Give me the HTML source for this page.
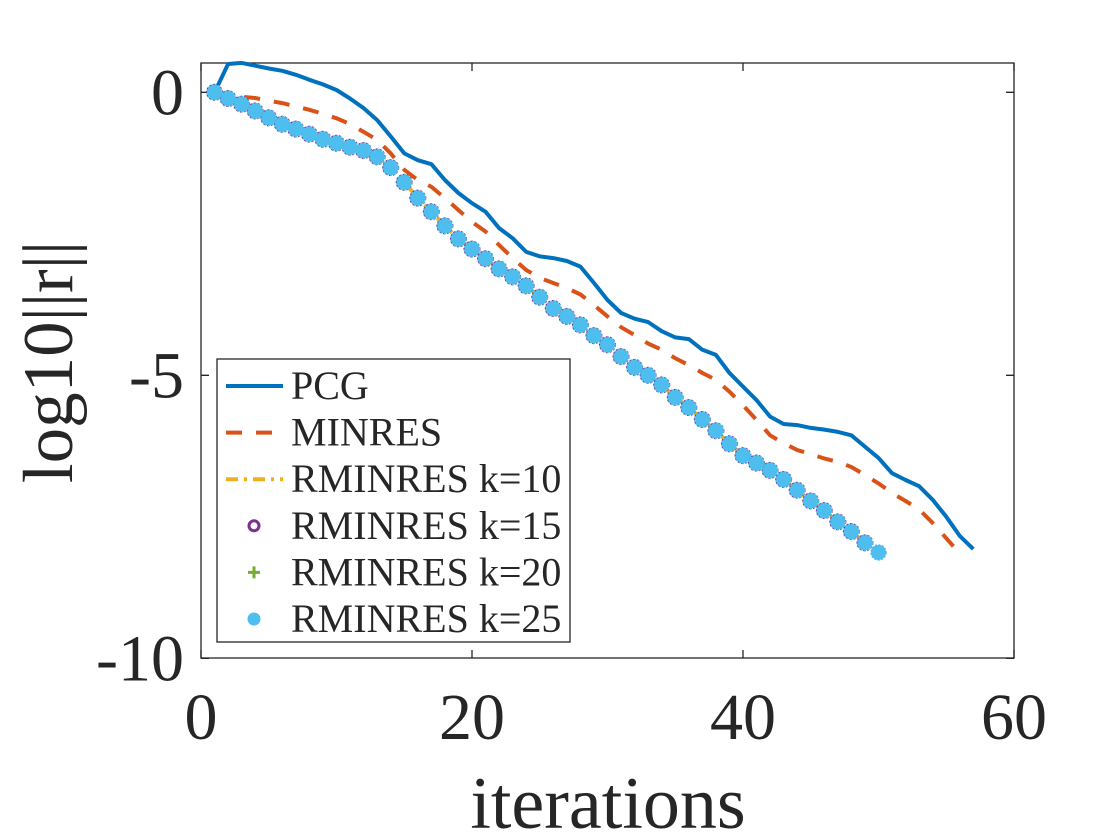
<!DOCTYPE html>
<html><head><meta charset="utf-8"><style>
html,body{margin:0;padding:0;background:#fff}
svg{display:block}
text{font-family:"Liberation Serif",serif;fill:#262626}
</style></head><body>
<svg id="chart" width="1120" height="840" viewBox="0 0 1120 840" xmlns="http://www.w3.org/2000/svg">
<rect x="0" y="0" width="1120" height="840" fill="#fff"/>
<g id="plot"></g>
</svg>
<script>
const xTicks=[0,20,40,60];
const yTicks=[0,-5,-10];
const yTickLabels=["0","-5","-10"];
const pcg=[0,0.50,0.52,0.47,0.42,0.38,0.31,0.22,0.14,0.04,-0.11,-0.28,-0.49,-0.78,-1.08,-1.20,-1.27,-1.55,-1.78,-1.96,-2.11,-2.40,-2.58,-2.82,-2.90,-2.93,-2.98,-3.08,-3.37,-3.67,-3.90,-4.00,-4.06,-4.22,-4.33,-4.36,-4.55,-4.64,-4.96,-5.20,-5.44,-5.73,-5.86,-5.88,-5.93,-5.96,-6.00,-6.06,-6.26,-6.46,-6.73,-6.85,-6.96,-7.20,-7.50,-7.84,-8.07];
const minres=[0,-0.04,-0.08,-0.10,-0.15,-0.19,-0.25,-0.31,-0.38,-0.46,-0.56,-0.70,-0.84,-1.08,-1.37,-1.55,-1.67,-1.87,-2.08,-2.29,-2.46,-2.70,-2.93,-3.14,-3.28,-3.37,-3.46,-3.57,-3.76,-3.96,-4.15,-4.29,-4.44,-4.55,-4.70,-4.82,-4.96,-5.08,-5.29,-5.53,-5.79,-6.06,-6.20,-6.32,-6.39,-6.47,-6.53,-6.62,-6.76,-6.91,-7.08,-7.22,-7.37,-7.61,-7.88,-8.15];
const rk10=[0,-0.11,-0.21,-0.33,-0.45,-0.565,-0.65,-0.74,-0.83,-0.90,-0.97,-1.03,-1.14,-1.33,-1.59,-1.87,-2.11,-2.36,-2.59,-2.77,-2.94,-3.12,-3.26,-3.42,-3.62,-3.82,-3.96,-4.11,-4.30,-4.47,-4.67,-4.86,-5.00,-5.17,-5.39,-5.57,-5.78,-5.98,-6.21,-6.42,-6.55,-6.68,-6.84,-7.03,-7.22,-7.39,-7.59,-7.76,-7.96,-8.13];
const rk15=[0,-0.11,-0.21,-0.33,-0.45,-0.565,-0.65,-0.74,-0.83,-0.90,-0.97,-1.03,-1.14,-1.33,-1.59,-1.87,-2.11,-2.36,-2.59,-2.77,-2.94,-3.12,-3.26,-3.42,-3.62,-3.82,-3.96,-4.11,-4.30,-4.46,-4.67,-4.86,-5.00,-5.17,-5.39,-5.57,-5.78,-5.98,-6.21,-6.42,-6.55,-6.68,-6.84,-7.03,-7.22,-7.39,-7.59,-7.76,-7.96];
const rk20=[0,-0.11,-0.21,-0.33,-0.45,-0.565,-0.65,-0.74,-0.83,-0.90,-0.97,-1.03,-1.14,-1.33,-1.59,-1.87,-2.11,-2.36,-2.59,-2.77,-2.94,-3.12,-3.26,-3.42,-3.62,-3.82,-3.96,-4.11,-4.30,-4.46,-4.67,-4.86,-5.00,-5.17,-5.39,-5.57,-5.78,-5.98,-6.21,-6.42,-6.55,-6.68,-6.84,-7.03,-7.22,-7.39,-7.59,-7.76,-7.97];
const rk25=[0,-0.11,-0.21,-0.33,-0.45,-0.565,-0.65,-0.74,-0.83,-0.90,-0.97,-1.03,-1.14,-1.33,-1.59,-1.87,-2.11,-2.36,-2.59,-2.77,-2.94,-3.12,-3.26,-3.42,-3.62,-3.82,-3.96,-4.11,-4.30,-4.46,-4.67,-4.86,-5.00,-5.17,-5.39,-5.57,-5.78,-5.98,-6.21,-6.42,-6.55,-6.68,-6.84,-7.03,-7.22,-7.39,-7.59,-7.76,-7.96,-8.13];
const legendLabels=["PCG","MINRES","RMINRES k=10","RMINRES k=15","RMINRES k=20","RMINRES k=25"];

const NS="http://www.w3.org/2000/svg";
const L=201,R=1014,T=63,B=658;
const X=v=>L+(v-0)/(60-0)*(R-L);
const Y=v=>92.3-(v-0)*56.6;
const g=document.getElementById('plot');
function mk(tag,at,parent){const e=document.createElementNS(NS,tag);for(const k in at)e.setAttribute(k,at[k]);(parent||g).appendChild(e);return e;}

const box=mk('rect',{x:L,y:T,width:R-L,height:B-T,fill:'none',stroke:'#262626','stroke-width':1.3});


xTicks.forEach((t,i)=>{
  const tk=mk('path',{d:`M${X(t)},${B}v-8M${X(t)},${T}v8`,stroke:'#262626','stroke-width':1.3});
  
  
  const tx=mk('text',{x:X(t),y:739,'font-size':66,'text-anchor':'middle'});
  tx.textContent=String(t);
  
  
});
yTicks.forEach((t,i)=>{
  const tk=mk('path',{d:`M${L},${Y(t)}h8M${R},${Y(t)}h-8`,stroke:'#262626','stroke-width':1.3});
  
  
  const tx=mk('text',{x:184,y:Y(t)+22,'font-size':66,'text-anchor':'end'});
  tx.textContent=yTickLabels[i];
  
  
});
const xl=mk('text',{x:608,y:828,'font-size':74,'text-anchor':'middle'});
xl.textContent='iterations';


const yl=mk('text',{x:0,y:0,'font-size':71,'text-anchor':'middle',transform:'translate(72,362) rotate(-90)'});
yl.textContent='log10||r||';



function pts(arr){return arr.map((v,i)=>`${X(i+1).toFixed(1)},${Y(v).toFixed(1)}`).join(' ');}
const lPcg=mk('polyline',{points:pts(pcg),fill:'none',stroke:'#0072BD','stroke-width':4,'stroke-linejoin':'round'});


const lMin=mk('polyline',{points:pts(minres),fill:'none',stroke:'#D95319','stroke-width':4,'stroke-dasharray':'16 14'});


const l10=mk('polyline',{points:pts(rk10),fill:'none',stroke:'#EDB120','stroke-width':4,'stroke-dasharray':'12 6 3 6'});


rk15.forEach((v,i)=>{
  const c=mk('circle',{cx:X(i+1),cy:Y(v),r:7,fill:'none',stroke:'#7E2F8E','stroke-width':3,'stroke-dasharray':'2 1.5'});
  
  
});
rk20.forEach((v,i)=>{
  const x=X(i+1),y=Y(v);
  const p=mk('path',{d:`M${x-6},${y}h12M${x},${y-6}v12`,stroke:'#77AC30','stroke-width':3});
  
  
});
rk25.forEach((v,i)=>{
  const c=mk('circle',{cx:X(i+1),cy:Y(v),r:7.5,fill:'#4DBEEE',stroke:'#4DBEEE','stroke-width':1.5,'stroke-dasharray':'2 1.5'});
  
  
});

const lg=mk('g',{});


mk('rect',{x:217,y:359,width:353,height:283,fill:'#fff',stroke:'#262626','stroke-width':1.3},lg);
legendLabels.forEach((lab,i)=>{
  const by=399+i*46.6, cy=by-13;
  const e=mk('g',{},lg);
  
  
  if(i===0)mk('line',{x1:226,x2:283,y1:cy,y2:cy,stroke:'#0072BD','stroke-width':4},e);
  if(i===1)mk('line',{x1:226,x2:283,y1:cy,y2:cy,stroke:'#D95319','stroke-width':4,'stroke-dasharray':'16 14'},e);
  if(i===2)mk('line',{x1:226,x2:283,y1:cy,y2:cy,stroke:'#EDB120','stroke-width':4,'stroke-dasharray':'12 6 3 6'},e);
  if(i===3)mk('circle',{cx:254,cy:cy,r:5,fill:'none',stroke:'#7E2F8E','stroke-width':3},e);
  if(i===4)mk('path',{d:`M248,${cy}h12M254,${cy-6}v12`,stroke:'#77AC30','stroke-width':3},e);
  if(i===5)mk('circle',{cx:254,cy:cy,r:6.5,fill:'#4DBEEE'},e);
  const t=mk('text',{x:291,y:by,'font-size':40,fill:'#000'},e);
  t.textContent=lab;
});
</script>
</body></html>
